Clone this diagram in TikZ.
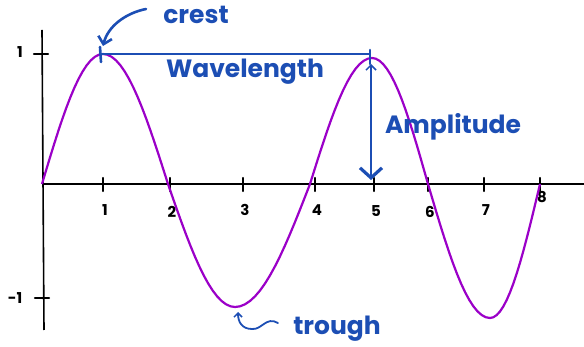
\documentclass[tikz,border=0pt]{standalone}
\usepackage{fontspec}
\setmainfont{Poppins}
\usetikzlibrary{arrows.meta}
\definecolor{wavepurple}{RGB}{155,0,200}
\definecolor{annblue}{RGB}{28,78,180}
\begin{document}
\begin{tikzpicture}[x=1pt,y=-1pt,
  axisline/.style={black,line width=1.6pt},
  tickmark/.style={black,line width=2.2pt,line cap=round},
  wave/.style={wavepurple,line width=2.2pt,line join=round},
  ann/.style={annblue,line width=2.6pt,line cap=round},
  anntext/.style={annblue,font=\fontsize{25}{25}\selectfont\bfseries,inner sep=0pt},
  numtext/.style={black,font=\fontsize{15}{15}\selectfont\bfseries,inner sep=0pt}]
\useasboundingbox (0,0) rectangle (584,347);
% axes
\coordinate (yaxtop) at (42,30);
\coordinate (yaxbot) at (44,330);
\coordinate (origin) at (42,184);
\coordinate (xaxend) at (584,184);
\draw[axisline] (yaxtop) -- (yaxbot);
\draw[axisline] (origin) -- (xaxend);
% y ticks
\draw[tickmark] (34,54) -- (48,54);
\draw[tickmark] (35,298) -- (49,298);
\node[numtext] (yone) at (20,52) {1};
\node[numtext] (ymone) at (15,298) {-1};
% x ticks and labels
\foreach \xx/\lab/\ly in {103/1/210,170/2/212,243/3/210,315/4/210,374/5/211,428/6/212,484/7/210,540/8/197}{
  \draw[tickmark] (\xx,178) -- (\xx,191);
  \node[numtext] (num\lab) at (\xx+2,\ly) {\lab};
}
% wave
\draw[wave] plot[domain=0:1,samples=16] ({42+61*\x},{184-130*sin(90*\x)})
  -- plot[domain=0:1,samples=16] ({103+65*\x},{184-130*cos(90*\x)})
  -- plot[domain=0:1,samples=16] ({168+67*\x},{184+123*sin(90*\x)})
  -- plot[domain=0:1,samples=16] ({235+75*\x},{184+123*cos(90*\x)})
  -- plot[domain=0:1,samples=16] ({310+62*\x},{184-126*sin(90*\x)})
  -- plot[domain=0:1,samples=16] ({372+56*\x},{184-126*cos(90*\x)})
  -- plot[domain=0:1,samples=16] ({428+62*\x},{184+134*sin(90*\x)})
  -- plot[domain=0:1,samples=16] ({490+50*\x},{184+134*cos(90*\x)});
% wavelength
\coordinate (wlstart) at (101,54);
\coordinate (wlend) at (371,54);
\draw[annblue,line width=1.3pt] (wlstart) -- (wlend);
\draw[ann] (100,47) -- (101,62);
\draw[ann] (370,50) -- (370,64);
\node[anntext] (wltext) at (245,72) {Wavelength};
% amplitude
\coordinate (amptop) at (371,64);
\coordinate (ampbot) at (371,180);
\draw[annblue,line width=2pt,
  {Straight Barb[length=5pt,width=10pt,line width=1.5pt]}-{Straight Barb[length=10pt,width=22pt,line width=3.2pt]}]
  (amptop) -- (ampbot);
\node[anntext] (amptext) at (453,127) {Amplitude};
% crest
\node[anntext] (cresttext) at (196,15) {crest};
\coordinate (crestfrom) at (146,9);
\coordinate (crestto) at (103,46);
\draw[ann,-{Straight Barb[length=7pt,width=14pt,line width=2.6pt]}]
  (crestfrom) .. controls (126,13) and (108,26) .. (crestto);
% trough
\node[anntext] (troughtext) at (337,329) {trough};
\coordinate (troughfrom) at (278,323);
\coordinate (troughmid) at (252,329);
\coordinate (troughto) at (238,312);
\draw[annblue,line width=1.8pt,line cap=round,-{Straight Barb[length=4pt,width=8pt,line width=1.5pt]}]
  (troughfrom) .. controls (266,316) and (262,330) .. (troughmid)
  .. controls (242,329) and (238,322) .. (troughto);
\end{tikzpicture}
\end{document}
